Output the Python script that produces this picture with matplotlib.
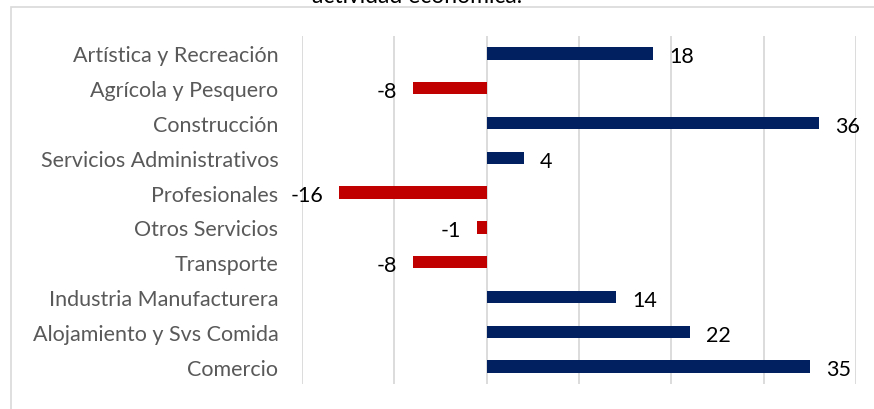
import matplotlib.pyplot as plt
from matplotlib.patches import Rectangle

plt.rcParams['font.family'] = ['Lato', 'DejaVu Sans']

# Data (top to bottom as shown)
categories = ['Artística y Recreación', 'Agrícola y Pesquero', 'Construcción',
              'Servicios Administrativos', 'Profesionales', 'Otros Servicios',
              'Transporte', 'Industria Manufacturera', 'Alojamiento y Svs Comida',
              'Comercio']
values = [18, -8, 36, 4, -16, -1, -8, 14, 22, 35]

navy = '#002060'
red = '#C00000'
grid_col = '#D9D9D9'
label_col = '#595959'

W, H = 874, 410
fig = plt.figure(figsize=(W / 100, H / 100), dpi=100, facecolor='white')

# chart border (cut off by the crop on the right and bottom)
fig.patches.append(Rectangle((11 / W, -0.1), 1.2, 1 - 8 / H + 0.1,
                             transform=fig.transFigure, fill=False,
                             edgecolor=grid_col, linewidth=1.2))

# title, cut off at the top edge like in the source
fig.text(417 / W, 1 - 3 / H, 'actividad económica.', ha='center', va='baseline',
         fontsize=16.5, color='#000000')

ax = fig.add_axes([302 / W, 25 / H, (856 - 302) / W, (385 - 37) / H])
ypos = list(range(len(categories)))[::-1]
colors = [navy if v >= 0 else red for v in values]
ax.barh(ypos, values, height=0.36, color=colors, zorder=3)

ax.set_xlim(-20, 40)
ax.set_ylim(-0.5, len(categories) - 0.5)
ax.set_xticks(range(-20, 41, 10))
ax.xaxis.grid(True, color=grid_col, linewidth=1.3, zorder=0)
ax.tick_params(axis='x', length=0, labelbottom=False)
ax.tick_params(axis='y', length=0, pad=17, labelsize=15.5, labelcolor=label_col)
ax.set_yticks(ypos)
ax.set_yticklabels(categories)
for s in ax.spines.values():
    s.set_visible(False)

for y, v in zip(ypos, values):
    off = 11.5 if v >= 0 else -11.5
    ax.annotate(str(v), (v, y), xytext=(off, -2), textcoords='offset points',
                ha='left' if v >= 0 else 'right', va='center',
                fontsize=15.5, color='#000000')

fig.savefig('out.png', dpi=100, facecolor='white')
